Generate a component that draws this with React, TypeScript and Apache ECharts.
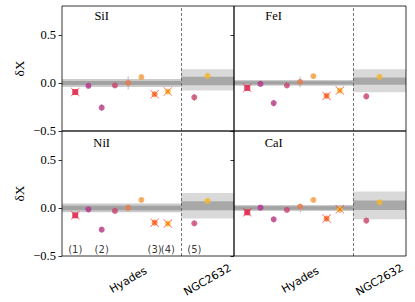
import React, { useEffect, useRef } from "react";
import * as echarts from "echarts";

// ---- data ----
const ELEMENTS = ["SiI", "FeI", "NiI", "CaI"];
const HYADES_X = [1, 2, 3, 4, 5, 6, 7, 8];
const NGC_X = [10, 11];
const XTICK_POS = [5, 11];
const XTICK_LABELS = ["Hyades", "NGC2632"];
const YTICKS = [-0.5, 0, 0.5];

const SII_HYADES = [-0.095, -0.03, -0.257, -0.027, 0.0, 0.06, -0.118, -0.09];
const FEI_HYADES = [-0.052, -0.01, -0.21, -0.027, 0.01, 0.07, -0.135, -0.08];
const NII_HYADES = [-0.077, -0.015, -0.226, -0.031, 0.0, 0.083, -0.153, -0.163];
const CAI_HYADES = [-0.046, 0.003, -0.119, -0.021, 0.014, 0.083, -0.111, -0.015];

const SII_NGC = [-0.15, 0.073];
const FEI_NGC = [-0.14, 0.063];
const NII_NGC = [-0.16, 0.073];
const CAI_NGC = [-0.132, 0.058];

const SII_HYADES_ERR = [0.02, 0.02, 0.035, 0.02, 0.068, 0.02, 0.02, 0.02];
const FEI_HYADES_ERR = [0.02, 0.02, 0.035, 0.02, 0.055, 0.02, 0.02, 0.02];
const NII_HYADES_ERR = [0.02, 0.02, 0.025, 0.02, 0.035, 0.02, 0.02, 0.02];
const CAI_HYADES_ERR = [0.02, 0.02, 0.02, 0.02, 0.025, 0.02, 0.02, 0.04];
const SII_NGC_ERR = [0.035, 0.02];
const FEI_NGC_ERR = [0.03, 0.02];
const NII_NGC_ERR = [0.02, 0.02];
const CAI_NGC_ERR = [0.02, 0.02];

// Hyades band half-widths (light, dark) centred on 0
const HYADES_LIGHT = [0.042, 0.03, 0.045, 0.031];
const HYADES_DARK = [0.021, 0.017, 0.023, 0.018];
// NGC2632 bands [low, high]
const NGC_LIGHT = [[-0.08, 0.143], [-0.097, 0.143], [-0.11, 0.156], [-0.119, 0.17]];
const NGC_DARK = [[-0.024, 0.063], [-0.02, 0.056], [-0.025, 0.069], [-0.021, 0.076]];

const POINT_COLORS = ["#d2184a", "#b5318a", "#b93a82", "#c8446e", "#e57a48", "#f59f45", "#f57b1f", "#f7c51d"];
const NGC_COLORS = ["#c9446a", "#f6b72a"];
const CROSSED = [0, 6, 7];

const NOTE_X = [1, 3, 7, 8, 10];
const NOTE_TEXT = ["(1)", "(2)", "(3)", "(4)", "(5)"];
const NOTE_Y = -0.43;

const HYADES_VALUES = [SII_HYADES, FEI_HYADES, NII_HYADES, CAI_HYADES];
const NGC_VALUES = [SII_NGC, FEI_NGC, NII_NGC, CAI_NGC];
const HYADES_ERRS = [SII_HYADES_ERR, FEI_HYADES_ERR, NII_HYADES_ERR, CAI_HYADES_ERR];
const NGC_ERRS = [SII_NGC_ERR, FEI_NGC_ERR, NII_NGC_ERR, CAI_NGC_ERR];

// ---- layout ----
const GRIDS = [
  { left: 62, top: 6 },
  { left: 234, top: 6 },
  { left: 62, top: 131 },
  { left: 234, top: 131 },
];
const GW = 172;
const GH = 125;
const TITLE_DY = [9.5, 9.5, 12, 12];
const SERIF = "'Liberation Serif', 'Times New Roman', serif";
const SANS = "'DejaVu Sans', sans-serif";

const CROSS_PATH =
  "path://M0,0.6 L0.6,0 L5,4.4 L9.4,0 L10,0.6 L5.6,5 L10,9.4 L9.4,10 L5,5.6 L0.6,10 L0,9.4 L4.4,5 Z";

function buildOption() {
  const xAxis: any[] = [];
  const yAxis: any[] = [];
  const series: any[] = [];
  const fmtY = (v: number) => v.toFixed(1).replace("-", "\u2212");

  GRIDS.forEach((_, i) => {
    const bottom = i >= 2;
    const left = i % 2 === 0;
    xAxis.push({
      type: "value",
      gridIndex: i,
      min: 0,
      max: 13,
      splitLine: { show: false },
      axisLine: { show: false },
      axisTick: {
        show: bottom,
        customValues: XTICK_POS,
        length: 3.5,
        lineStyle: { color: "#000", width: 0.8 },
      },
      axisLabel: {
        show: bottom,
        customValues: XTICK_POS,
        formatter: (v: number) => {
          const k = XTICK_POS.indexOf(v);
          return k >= 0 ? XTICK_LABELS[k] : "";
        },
        rotate: 30,
        align: "center",
        verticalAlign: "middle",
        margin: 24,
        fontFamily: SANS,
        fontSize: 11,
        color: "#000",
      },
    });
    yAxis.push({
      type: "value",
      gridIndex: i,
      min: -0.5,
      max: 0.8,
      interval: 0.5,
      splitLine: { show: false },
      axisLine: { show: false },
      axisTick: {
        show: true,
        customValues: YTICKS,
        length: 3.5,
        lineStyle: { color: "#000", width: 0.8 },
      },
      axisLabel: {
        show: left,
        customValues: YTICKS,
        formatter: fmtY,
        fontFamily: SERIF,
        fontSize: 12.5,
        color: "#000",
        margin: 6,
      },
      name: left ? "δX" : "",
      nameLocation: "middle",
      nameGap: 36,
      nameTextStyle: { fontFamily: SERIF, fontSize: 13.5, color: "#000" },
    });

    // bands and divider
    series.push({
      type: "scatter",
      xAxisIndex: i,
      yAxisIndex: i,
      data: [],
      z: 1,
      silent: true,
      markArea: {
        silent: true,
        data: [
          [
            { xAxis: 0, yAxis: -HYADES_LIGHT[i], itemStyle: { color: "#cbcbcb" } },
            { xAxis: 9, yAxis: HYADES_LIGHT[i] },
          ],
          [
            { xAxis: 0, yAxis: -HYADES_DARK[i], itemStyle: { color: "#a2a2a2" } },
            { xAxis: 9, yAxis: HYADES_DARK[i] },
          ],
          [
            { xAxis: 9, yAxis: NGC_LIGHT[i][0], itemStyle: { color: "#d9d9d9" } },
            { xAxis: 13, yAxis: NGC_LIGHT[i][1] },
          ],
          [
            { xAxis: 9, yAxis: NGC_DARK[i][0], itemStyle: { color: "#a8a8a8" } },
            { xAxis: 13, yAxis: NGC_DARK[i][1] },
          ],
        ],
      },
      markLine: {
        silent: true,
        symbol: ["none", "none"],
        label: { show: false },
        lineStyle: { type: [3, 2], color: "#555", width: 0.8 },
        data: [{ xAxis: 9 }],
      },
    });

    const errData: number[][] = [];
    HYADES_X.forEach((x, k) => errData.push([x, HYADES_VALUES[i][k], HYADES_ERRS[i][k]]));
    NGC_X.forEach((x, k) => errData.push([x, NGC_VALUES[i][k], NGC_ERRS[i][k]]));
    series.push({
      type: "custom",
      xAxisIndex: i,
      yAxisIndex: i,
      z: 2,
      silent: true,
      data: errData,
      encode: { x: 0, y: 1 },
      renderItem: (_p: any, api: any) => {
        const x = api.value(0);
        const y = api.value(1);
        const e = api.value(2);
        const a = api.coord([x, y - e]);
        const b = api.coord([x, y + e]);
        return {
          type: "line",
          shape: { x1: a[0], y1: a[1], x2: b[0], y2: b[1] },
          style: { stroke: "#b4b4b4", lineWidth: 1 },
        };
      },
    });

    const pts: any[] = [];
    HYADES_X.forEach((x, k) =>
      pts.push({
        value: [x, HYADES_VALUES[i][k]],
        symbol: k === 0 ? "rect" : "circle",
        itemStyle: { color: POINT_COLORS[k] },
      })
    );
    NGC_X.forEach((x, k) =>
      pts.push({
        value: [x, NGC_VALUES[i][k]],
        symbol: "circle",
        itemStyle: { color: NGC_COLORS[k] },
      })
    );
    series.push({
      type: "scatter",
      xAxisIndex: i,
      yAxisIndex: i,
      z: 3,
      silent: true,
      symbolSize: 6,
      data: pts,
    });

    series.push({
      type: "scatter",
      xAxisIndex: i,
      yAxisIndex: i,
      z: 4,
      silent: true,
      symbol: CROSS_PATH,
      symbolSize: 9,
      itemStyle: { color: "#ff2a2a", opacity: 0.65 },
      data: CROSSED.map((k) => [HYADES_X[k], HYADES_VALUES[i][k]]),
    });

    if (i === 2) {
      series.push({
        type: "scatter",
        xAxisIndex: i,
        yAxisIndex: i,
        z: 5,
        silent: true,
        symbolSize: 0,
        data: NOTE_X.map((x, k) => ({ value: [x, NOTE_Y], name: NOTE_TEXT[k] })),
        label: {
          show: true,
          position: "inside",
          formatter: (p: any) => p.name,
          fontFamily: SANS,
          fontSize: 10,
          color: "#000",
        },
      });
    }
  });

  return {
    animation: false,
    backgroundColor: "#fff",
    grid: GRIDS.map((g) => ({
      left: g.left,
      top: g.top,
      width: GW,
      height: GH,
      show: true,
      borderColor: "#000",
      borderWidth: 0.8,
      backgroundColor: "transparent",
      z: 10,
    })),
    xAxis,
    yAxis,
    series,
    graphic: ELEMENTS.map((el, i) => ({
      type: "text",
      x: GRIDS[i].left + (3 * GW) / 13,
      y: GRIDS[i].top + TITLE_DY[i],
      z: 20,
      style: {
        text: el,
        fontFamily: SERIF,
        fontSize: 12.5,
        fontWeight: "normal",
        fill: "#000",
        align: "center",
        verticalAlign: "middle",
      },
    })),
  };
}

export default function App() {
  const ref = useRef<HTMLDivElement>(null);
  useEffect(() => {
    document.body.style.margin = "0";
    const chart = echarts.init(ref.current!, null, { renderer: "svg" });
    chart.setOption(buildOption() as any);
    return () => chart.dispose();
  }, []);
  return <div ref={ref} style={{ width: 415, height: 302 }} />;
}
